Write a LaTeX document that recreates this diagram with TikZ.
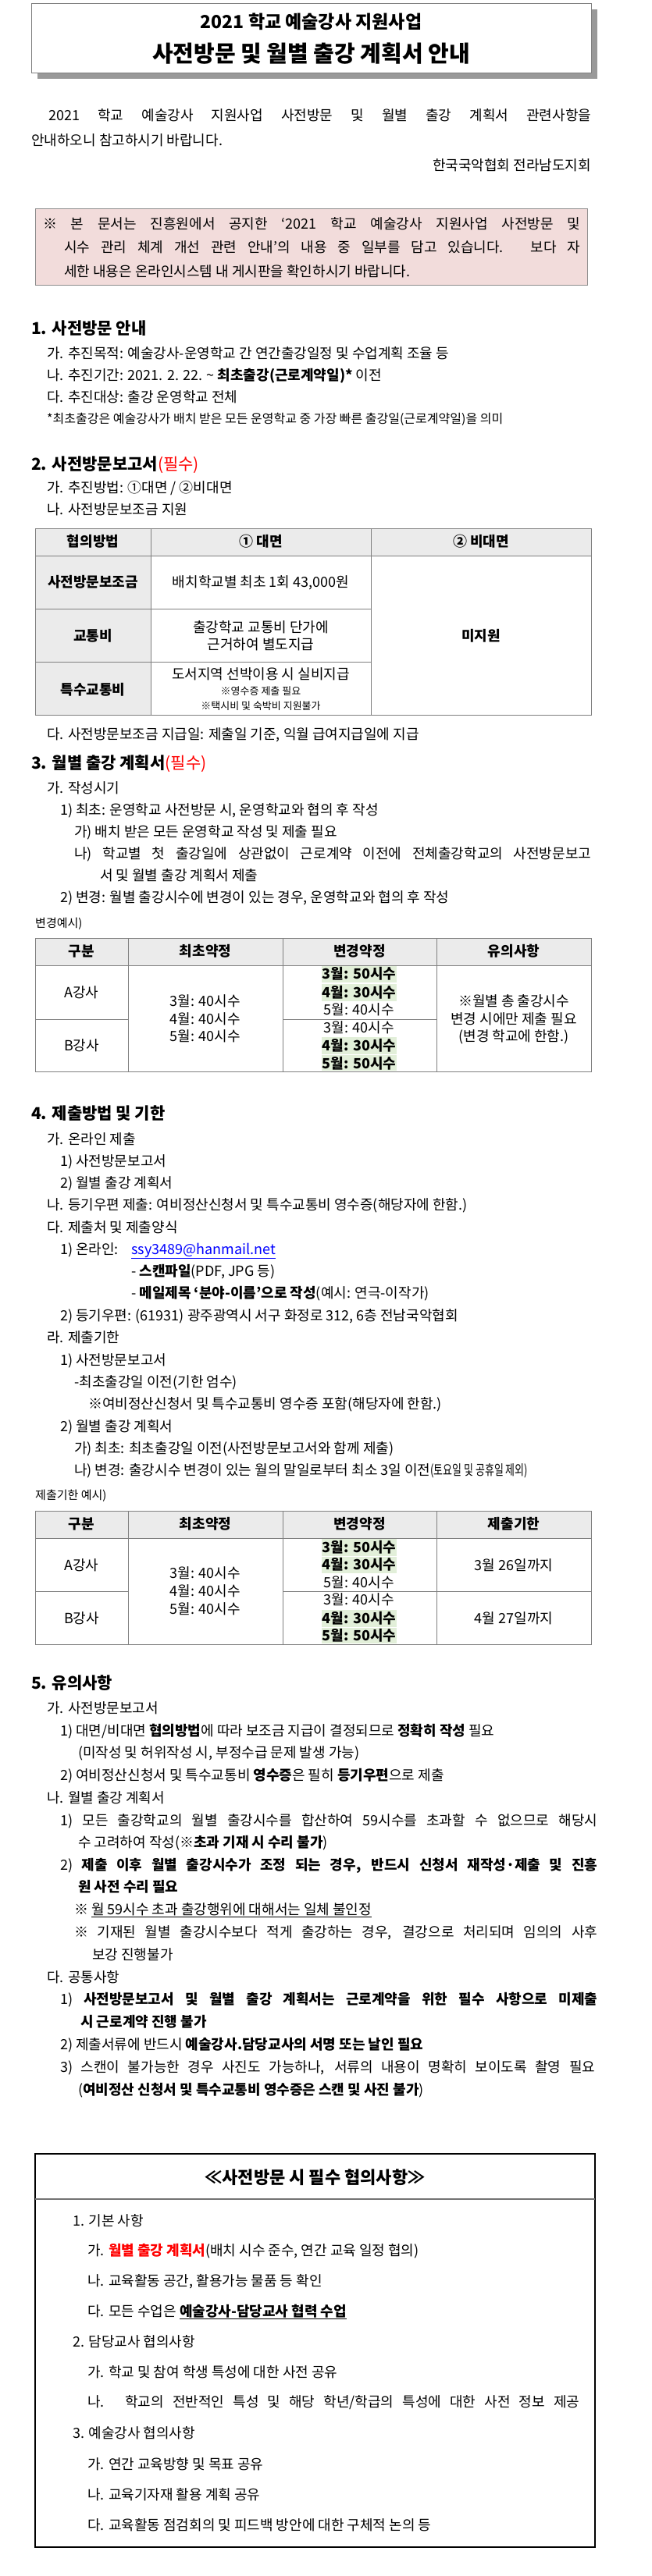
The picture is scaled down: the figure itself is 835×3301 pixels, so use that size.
\documentclass[tikz,border=0pt]{standalone}
\usepackage{fontspec}
\usepackage{graphicx}
\setmainfont{Noto Sans CJK KR}
\newcommand\fsz[1]{\fontsize{#1}{#1}\selectfont}
\definecolor{pinkbg}{HTML}{F2DCDB}
\definecolor{hdrbg}{HTML}{EBEBEB}
\definecolor{hlgreen}{HTML}{E2EFD9}
\definecolor{tline}{HTML}{808080}
\tikzset{
  txt/.style={inner sep=0pt, anchor=base west, font=\fsz{18}},
  ctxt/.style={inner sep=0pt, anchor=base, font=\fsz{18}},
  head/.style={inner sep=0pt, anchor=base west, font=\fsz{21}\bfseries},
  small/.style={inner sep=0pt, anchor=base west, font=\fsz{15}},
  tbl/.style={draw=tline, line width=0.8pt},
  hl/.style={fill=hlgreen, draw=none},
}
\newcommand\Tx[4]{\node[txt] (#1) at (#2,{#3+6}) {#4};}
\newcommand\Jx[5]{\node[txt] (#1) at (#2,{#3+6}) {\makebox[#4pt][s]{#5}};}
\newcommand\Cx[4]{\node[ctxt] (#1) at (#2,{#3+6}) {#4};}
\newcommand\Hd[4]{\node[head] (#1) at (#2,{#3+7}) {#4};}
\begin{document}
\begin{tikzpicture}[x=1pt,y=-1pt]
\useasboundingbox (0,0) rectangle (835,3301);
\fill[white] (0,0) rectangle (835,3301);
% title
\fill[black!40] (48,12) rectangle (765,101);
\draw[fill=white,draw=black!50,line width=0.8pt] (40,4) rectangle (757,93);
\node[inner sep=0pt,anchor=base,font=\fsz{23}\bfseries] (t1) at (398.5,36) {2021 학교 예술강사 지원사업};
\node[inner sep=0pt,anchor=base,font=\fsz{29}\bfseries] (t2) at (398.5,79) {사전방문 및 월별 출강 계획서 안내};
% intro
\Jx{i1}{62}{148}{695}{2021 학교 예술강사 지원사업 사전방문 및 월별 출강 계획서 관련사항을}
\Tx{i2}{40}{180}{안내하오니 참고하시기 바랍니다.}
\node[txt,anchor=base east] (sig) at (757,218) {한국국악협회 전라남도지회};
% pink box
\draw[fill=pinkbg,draw=black!45,line width=0.8pt] (45,267) rectangle (752,365);
\Jx{p1}{55}{287}{688}{※ 본 문서는 진흥원에서 공지한 ‘2021 학교 예술강사 지원사업 사전방문 및}
\Jx{p2}{82}{317}{661}{시수 관리 체계 개선 관련 안내’의 내용 중 일부를 담고 있습니다. 보다 자}
\Tx{p3}{82}{348}{세한 내용은 온라인시스템 내 게시판을 확인하시기 바랍니다.}
% section 1
\Hd{s1}{40}{421}{1. 사전방문 안내}
\Tx{s1a}{60}{453}{가. 추진목적: 예술강사-운영학교 간 연간출강일정 및 수업계획 조율 등}
\Tx{s1b}{60}{481}{나. 추진기간: 2021. 2. 22. \textasciitilde{} \textbf{최초출강(근로계약일)*} 이전}
\Tx{s1c}{60}{509}{다. 추진대상: 출강 운영학교 전체}
\node[txt,font=\fsz{16}] (s1d) at (60,542) {*최초출강은 예술강사가 배치 받은 모든 운영학교 중 가장 빠른 출강일(근로계약일)을 의미};
% section 2
\Hd{s2}{40}{595}{2. 사전방문보고서\textcolor{red}{\mdseries(필수)}}
\Tx{s2a}{60}{625}{가. 추진방법: ①대면 / ②비대면}
\Tx{s2b}{60}{653}{나. 사전방문보조금 지원}
% table 1
\fill[hdrbg] (45,677) rectangle (757,712);
\fill[hdrbg] (45,712) rectangle (193,916);
\draw[tbl] (45,677) rectangle (757,916);
\draw[tbl] (45,712) -- (757,712);
\draw[tbl] (45,780) -- (475,780);
\draw[tbl] (45,848) -- (475,848);
\draw[tbl] (193,677) -- (193,916);
\draw[tbl] (475,677) -- (475,916);
\Cx{h11}{119}{694}{\textbf{협의방법}}
\Cx{h12}{334}{694}{\textbf{① 대면}}
\Cx{h13}{616}{694}{\textbf{② 비대면}}
\Cx{r11}{119}{746}{\textbf{사전방문보조금}}
\Cx{r12}{334}{746}{배치학교별 최초 1회 43,000원}
\Cx{r21}{119}{815}{\textbf{교통비}}
\Cx{r22}{334}{804}{출강학교 교통비 단가에}
\Cx{r23}{334}{826}{근거하여 별도지급}
\Cx{r31}{119}{884}{\textbf{특수교통비}}
\Cx{r32}{334}{864}{도서지역 선박이용 시 실비지급}
\node[ctxt,font=\fsz{13}] (r33) at (334,890) {※영수증 제출 필요};
\node[ctxt,font=\fsz{13}] (r34) at (334,909) {※택시비 및 숙박비 지원불가};
\Cx{r35}{616}{815}{\textbf{미지원}}
\Tx{s2c}{60}{941}{다. 사전방문보조금 지급일: 제출일 기준, 익월 급여지급일에 지급}
% section 3
\Hd{s3}{40}{978}{3. 월별 출강 계획서\textcolor{red}{\mdseries(필수)}}
\Tx{s3a}{60}{1010}{가. 작성시기}
\Tx{s3b}{77}{1038}{1) 최초: 운영학교 사전방문 시, 운영학교와 협의 후 작성}
\Tx{s3c}{95}{1066}{가) 배치 받은 모든 운영학교 작성 및 제출 필요}
\Jx{s3d}{95}{1094}{662}{나) 학교별 첫 출강일에 상관없이 근로계약 이전에 전체출강학교의 사전방문보고}
\Tx{s3e}{128}{1122}{서 및 월별 출강 계획서 제출}
\Tx{s3f}{77}{1150}{2) 변경: 월별 출강시수에 변경이 있는 경우, 운영학교와 협의 후 작성}
\node[small] (s3g) at (45,1188) {변경예시)};
% table 2
\fill[hdrbg] (45,1202) rectangle (757,1237);
\draw[tbl] (45,1202) rectangle (757,1373);
\draw[tbl] (45,1237) -- (757,1237);
\draw[tbl] (45,1306) -- (164,1306);
\draw[tbl] (362,1306) -- (559,1306);
\foreach \xx in {164,362,559} \draw[tbl] (\xx,1202) -- (\xx,1373);
\Cx{h21}{104.5}{1219}{\textbf{구분}}
\Cx{h22}{263}{1219}{\textbf{최초약정}}
\Cx{h23}{460.5}{1219}{\textbf{변경약정}}
\Cx{h24}{658}{1219}{\textbf{유의사항}}
\Cx{a21}{104.5}{1272}{A강사}
\Cx{b21}{104.5}{1340}{B강사}
\Cx{c21}{263}{1283}{3월: 40시수}
\Cx{c22}{263}{1306}{4월: 40시수}
\Cx{c23}{263}{1328}{5월: 40시수}
\fill[hl] (412,1238) rectangle (508,1259); \Cx{d21}{460}{1248}{\textbf{3월: 50시수}}
\fill[hl] (412,1261) rectangle (508,1283); \Cx{d22}{460}{1272}{\textbf{4월: 30시수}}
\Cx{d23}{460}{1294}{5월: 40시수}
\Cx{d24}{460}{1317}{3월: 40시수}
\fill[hl] (412,1329) rectangle (508,1351); \Cx{d25}{460}{1340}{\textbf{4월: 30시수}}
\fill[hl] (412,1352) rectangle (508,1372); \Cx{d26}{460}{1363}{\textbf{5월: 50시수}}
\Cx{n21}{658}{1283}{※월별 총 출강시수}
\Cx{n22}{658}{1306}{변경 시에만 제출 필요}
\Cx{n23}{658}{1328}{(변경 학교에 한함.)}
% section 4
\Hd{s4}{40}{1427}{4. 제출방법 및 기한}
\Tx{s4a}{60}{1460}{가. 온라인 제출}
\Tx{s4b}{77}{1488}{1) 사전방문보고서}
\Tx{s4c}{77}{1516}{2) 월별 출강 계획서}
\Tx{s4d}{60}{1544}{나. 등기우편 제출: 여비정산신청서 및 특수교통비 영수증(해당자에 한함.)}
\Tx{s4e}{60}{1573}{다. 제출처 및 제출양식}
\Tx{s4f}{77}{1601}{1) 온라인:}
\Tx{s4g}{168}{1601}{\textcolor{blue}{\underline{ssy3489@hanmail.net}}}
\Tx{s4h}{168}{1629}{- \textbf{스캔파일}(PDF, JPG 등)}
\Tx{s4i}{168}{1657}{- \textbf{메일제목 ‘분야-이름’으로 작성}(예시: 연극-이작가)}
\Tx{s4j}{77}{1686}{2) 등기우편: (61931) 광주광역시 서구 화정로 312, 6층 전남국악협회}
\Tx{s4k}{60}{1714}{라. 제출기한}
\Tx{s4l}{77}{1743}{1) 사전방문보고서}
\Tx{s4m}{95}{1771}{-최초출강일 이전(기한 엄수)}
\Tx{s4n}{113}{1799}{※여비정산신청서 및 특수교통비 영수증 포함(해당자에 한함.)}
\Tx{s4o}{77}{1828}{2) 월별 출강 계획서}
\Tx{s4p}{95}{1856}{가) 최초: 최초출강일 이전(사전방문보고서와 함께 제출)}
\Tx{s4q}{95}{1884}{나) 변경: 출강시수 변경이 있는 월의 말일로부터 최소 3일 이전\scalebox{0.72}[1]{(토요일 및 공휴일 제외)}}
\node[small] (s4r) at (45,1921) {제출기한 예시)};
% table 3
\fill[hdrbg] (45,1936) rectangle (757,1971);
\draw[tbl] (45,1936) rectangle (757,2107);
\draw[tbl] (45,1971) -- (757,1971);
\draw[tbl] (45,2039) -- (164,2039);
\draw[tbl] (362,2039) -- (757,2039);
\foreach \xx in {164,362,559} \draw[tbl] (\xx,1936) -- (\xx,2107);
\Cx{h31}{104.5}{1953}{\textbf{구분}}
\Cx{h32}{263}{1953}{\textbf{최초약정}}
\Cx{h33}{460.5}{1953}{\textbf{변경약정}}
\Cx{h34}{658}{1953}{\textbf{제출기한}}
\Cx{a31}{104.5}{2006}{A강사}
\Cx{b31}{104.5}{2074}{B강사}
\Cx{c31}{263}{2016}{3월: 40시수}
\Cx{c32}{263}{2039}{4월: 40시수}
\Cx{c33}{263}{2062}{5월: 40시수}
\fill[hl] (412,1972) rectangle (508,1994); \Cx{d31}{460}{1983}{\textbf{3월: 50시수}}
\fill[hl] (412,1995) rectangle (508,2016); \Cx{d32}{460}{2005}{\textbf{4월: 30시수}}
\Cx{d33}{460}{2028}{5월: 40시수}
\Cx{d34}{460}{2050}{3월: 40시수}
\fill[hl] (412,2063) rectangle (508,2085); \Cx{d35}{460}{2074}{\textbf{4월: 30시수}}
\fill[hl] (412,2086) rectangle (508,2106); \Cx{d36}{460}{2096}{\textbf{5월: 50시수}}
\Cx{n31}{658}{2006}{3월 26일까지}
\Cx{n32}{658}{2074}{4월 27일까지}
% section 5
\Hd{s5}{40}{2157}{5. 유의사항}
\Tx{s5a}{60}{2189}{가. 사전방문보고서}
\Tx{s5b}{77}{2218}{1) 대면/비대면 \textbf{협의방법}에 따라 보조금 지급이 결정되므로 \textbf{정확히 작성} 필요}
\Tx{s5c}{100}{2246}{(미작성 및 허위작성 시, 부정수급 문제 발생 가능)}
\Tx{s5d}{77}{2275}{2) 여비정산신청서 및 특수교통비 \textbf{영수증}은 필히 \textbf{등기우편}으로 제출}
\Tx{s5e}{60}{2304}{나. 월별 출강 계획서}
\Jx{s5f}{77}{2333}{688}{1) 모든 출강학교의 월별 출강시수를 합산하여 59시수를 초과할 수 없으므로 해당시}
\Tx{s5g}{100}{2361}{수 고려하여 작성(\textbf{※초과 기재 시 수리 불가})}
\Jx{s5h}{77}{2390}{688}{2) \textbf{제출 이후 월별 출강시수가 조정 되는 경우, 반드시 신청서 재작성·제출 및 진흥}}
\Tx{s5i}{100}{2418}{\textbf{원 사전 수리 필요}}
\Tx{s5j}{95}{2447}{※ \underline{월 59시수 초과 출강행위에 대해서는 일체 불인정}}
\Jx{s5k}{95}{2476}{670}{※ 기재된 월별 출강시수보다 적게 출강하는 경우, 결강으로 처리되며 임의의 사후}
\Tx{s5l}{118}{2505}{보강 진행불가}
\Tx{s5m}{60}{2534}{다. 공통사항}
\Jx{s5n}{77}{2562}{688}{1) \textbf{사전방문보고서 및 월별 출강 계획서는 근로계약을 위한 필수 사항으로 미제출}}
\Tx{s5o}{103}{2591}{\textbf{시 근로계약 진행 불가}}
\Tx{s5p}{77}{2620}{2) 제출서류에 반드시 \textbf{예술강사.담당교사의 서명 또는 날인 필요}}
\Jx{s5q}{77}{2649}{685}{3) 스캔이 불가능한 경우 사진도 가능하나, 서류의 내용이 명확히 보이도록 촬영 필요}
\Tx{s5r}{100}{2678}{(\textbf{여비정산 신청서 및 특수교통비 영수증은 스캔 및 사진 불가})}
% bottom box
\draw[line width=1.6pt] (45,2760) rectangle (762,3264);
\draw[black!55,line width=2pt] (45,2818) -- (762,2818);
\node[inner sep=0pt,anchor=base,font=\fsz{22}\bfseries] (bt) at (403.5,2798) {≪사전방문 시 필수 협의사항≫};
\Tx{b1}{93}{2846}{1. 기본 사항}
\Tx{b1a}{112}{2884}{가. \textcolor{red}{\textbf{월별 출강 계획서}}(배치 시수 준수, 연간 교육 일정 협의)}
\Tx{b1b}{112}{2923}{나. 교육활동 공간, 활용가능 물품 등 확인}
\Tx{b1c}{112}{2962}{다. 모든 수업은 \textbf{\underline{예술강사-담당교사 협력 수업}}}
\Tx{b2}{93}{3001}{2. 담당교사 협의사항}
\Tx{b2a}{112}{3040}{가. 학교 및 참여 학생 특성에 대한 사전 공유}
\Jx{b2b}{112}{3078}{630}{나. 학교의 전반적인 특성 및 해당 학년/학급의 특성에 대한 사전 정보 제공}
\Tx{b3}{93}{3118}{3. 예술강사 협의사항}
\Tx{b3a}{112}{3158}{가. 연간 교육방향 및 목표 공유}
\Tx{b3b}{112}{3197}{나. 교육기자재 활용 계획 공유}
\Tx{b3c}{112}{3236}{다. 교육활동 점검회의 및 피드백 방안에 대한 구체적 논의 등}
\end{tikzpicture}
\end{document}
